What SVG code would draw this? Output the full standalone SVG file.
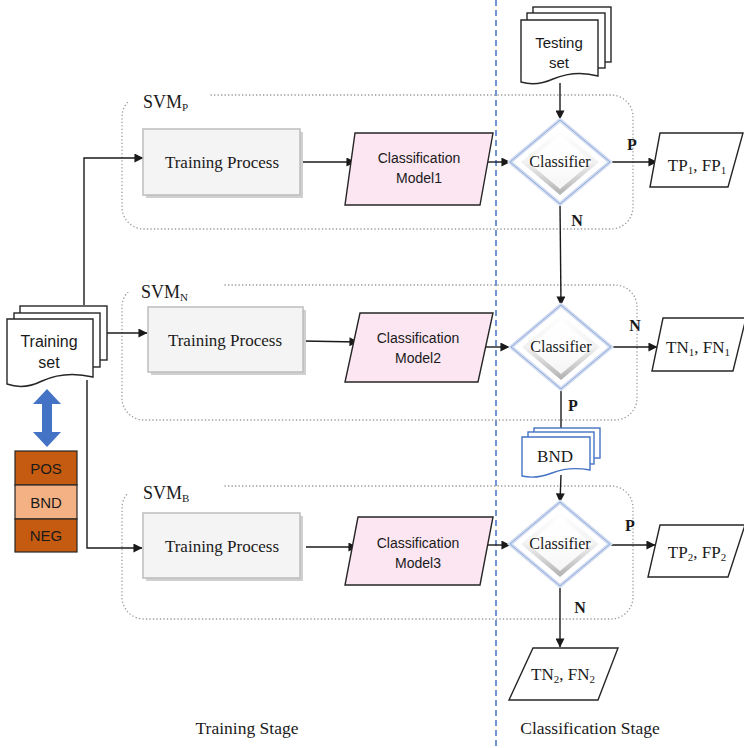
<svg xmlns="http://www.w3.org/2000/svg" width="744" height="748" viewBox="0 0 744 748">
<style>
.serif{font-family:"Liberation Serif","Times New Roman",serif;fill:#1a1a1a}
.sans{font-family:"Liberation Sans",Arial,sans-serif;fill:#1a1a1a}
.conn{fill:none;stroke:#1a1a1a;stroke-width:1.4}
.grp{fill:none;stroke:#9a9a9a;stroke-width:1.3;stroke-dasharray:1.3 2.2}
.tp{fill:#F4F4F4;stroke:#BDBDBD;stroke-width:1.5}
.tpsh{fill:#D0D0D0}
.cm{fill:#FCE6F2;stroke:#262626;stroke-width:1.4}
.out{fill:#ffffff;stroke:#262626;stroke-width:1.4}
.doc{fill:#ffffff;stroke:#262626;stroke-width:1.4}
.docb{fill:#ffffff;stroke:#4472C4;stroke-width:1.4}
.lbl{font-size:16px;font-weight:bold}
</style>
<defs>
<marker id="arr" viewBox="0 0 10 10" refX="9.5" refY="5" markerWidth="10" markerHeight="9" markerUnits="userSpaceOnUse" orient="auto">
<path d="M0,0 L10,5 L0,10 Z" fill="#1a1a1a"/>
</marker>
<linearGradient id="bev" x1="0" y1="0" x2="0" y2="1">
<stop offset="0" stop-color="#ffffff"/>
<stop offset="0.5" stop-color="#f2f2f2"/>
<stop offset="1" stop-color="#b0b0b0"/>
</linearGradient>
<g id="diamond">
<path d="M0,-42 L50,0 L0,42 L-50,0 Z" fill="#ffffff" stroke="#D3DDF1" stroke-width="4"/>
<path d="M0,-42 L50,0 L0,42 L-50,0 Z" fill="none" stroke="#8FA8DA" stroke-width="1"/>
<path d="M0,-33 L39,0 L0,33 L-39,0 Z" fill="url(#bev)"/>
<path d="M0,-27 L32,0 L0,27 L-32,0 Z" fill="#ffffff" opacity="0.85"/>
</g>
</defs>

<!-- stage divider -->
<line x1="496" y1="0" x2="496" y2="748" stroke="#4472C4" stroke-width="1.5" stroke-dasharray="6 4"/>

<!-- groups -->
<g id="svmP">
<rect class="grp" x="122" y="95" width="511" height="134" rx="22"/>
<rect x="127" y="86" width="83" height="16" fill="#ffffff"/>
<text class="serif" x="143" y="108" font-size="18">SVM<tspan font-size="11" dy="3">P</tspan></text>
</g>
<g id="svmN">
<rect class="grp" x="122" y="285" width="515" height="135" rx="22"/>
<rect x="127" y="276" width="96" height="16" fill="#ffffff"/>
<text class="serif" x="141" y="298" font-size="18">SVM<tspan font-size="11" dy="3">N</tspan></text>
</g>
<g id="svmB">
<rect class="grp" x="122" y="486" width="511" height="133" rx="22"/>
<rect x="127" y="477" width="96" height="16" fill="#ffffff"/>
<text class="serif" x="143" y="499" font-size="18">SVM<tspan font-size="11" dy="3">B</tspan></text>
</g>

<!-- connectors -->
<g id="connectors">
<polyline class="conn" points="84,305 84,158 143,158" marker-end="url(#arr)"/>
<line class="conn" x1="107" y1="333" x2="147" y2="333" marker-end="url(#arr)"/>
<polyline class="conn" points="87,380 87,548 142,548" marker-end="url(#arr)"/>
<line class="conn" x1="300" y1="162" x2="355" y2="162" marker-end="url(#arr)"/>
<line class="conn" x1="303" y1="341" x2="358" y2="342" marker-end="url(#arr)"/>
<line class="conn" x1="306" y1="547" x2="357" y2="547" marker-end="url(#arr)"/>
<line class="conn" x1="487" y1="162" x2="510" y2="162" marker-end="url(#arr)"/>
<line class="conn" x1="486" y1="347" x2="509" y2="347" marker-end="url(#arr)"/>
<line class="conn" x1="484" y1="545" x2="510" y2="545" marker-end="url(#arr)"/>
<line class="conn" x1="560" y1="83" x2="560" y2="119" marker-end="url(#arr)"/>
<line class="conn" x1="560" y1="204" x2="561" y2="305" marker-end="url(#arr)"/>
<line class="conn" x1="561" y1="389" x2="561" y2="430"/>
<line class="conn" x1="561" y1="475" x2="560" y2="502" marker-end="url(#arr)"/>
<line class="conn" x1="610" y1="162" x2="657" y2="162" marker-end="url(#arr)"/>
<line class="conn" x1="613" y1="347" x2="657" y2="347" marker-end="url(#arr)"/>
<line class="conn" x1="610" y1="545" x2="655" y2="545" marker-end="url(#arr)"/>
<line class="conn" x1="560" y1="586" x2="560" y2="647" marker-end="url(#arr)"/>
<text class="serif lbl" x="632" y="150" text-anchor="middle">P</text>
<text class="serif lbl" x="577" y="226" text-anchor="middle">N</text>
<text class="serif lbl" x="635" y="331" text-anchor="middle">N</text>
<text class="serif lbl" x="573" y="411" text-anchor="middle">P</text>
<text class="serif lbl" x="630" y="531" text-anchor="middle">P</text>
<text class="serif lbl" x="580" y="613" text-anchor="middle">N</text>
</g>

<!-- training set -->
<g id="trainingSet">
<rect class="doc" x="20" y="306" width="87" height="54"/>
<rect class="doc" x="14" y="313" width="86" height="54"/>
<path class="doc" d="M7,319 H93 V377 C72,372 55,375 42,381 C30,387 18,388 7,384 Z"/>
<text class="sans" x="49" y="347" font-size="16" text-anchor="middle">Training</text>
<text class="sans" x="49" y="368" font-size="16" text-anchor="middle">set</text>
</g>

<g id="doubleArrow">
<path d="M47,389 L61,404 L52,404 L52,432 L61,432 L47,447 L33,432 L42,432 L42,404 L33,404 Z" fill="#4472C4"/>
</g>

<g id="labels">
<rect x="15" y="451" width="62" height="34" fill="#C55A11" stroke="#262626" stroke-width="1.2"/>
<rect x="15" y="485" width="62" height="34" fill="#F4B183" stroke="#262626" stroke-width="1.2"/>
<rect x="15" y="519" width="62" height="33" fill="#C55A11" stroke="#262626" stroke-width="1.2"/>
<text class="sans" x="46" y="474" font-size="15" text-anchor="middle">POS</text>
<text class="sans" x="46" y="508" font-size="15" text-anchor="middle">BND</text>
<text class="sans" x="46" y="541" font-size="15" text-anchor="middle">NEG</text>
</g>

<!-- training processes -->
<g id="tp1">
<rect class="tpsh" x="146" y="132" width="157" height="66"/>
<rect class="tp" x="143" y="129" width="157" height="66"/>
<text class="serif" x="222" y="168" font-size="17" text-anchor="middle">Training Process</text>
</g>
<g id="tp2">
<rect class="tpsh" x="151" y="310" width="155" height="65"/>
<rect class="tp" x="148" y="307" width="155" height="65"/>
<text class="serif" x="225" y="346" font-size="17" text-anchor="middle">Training Process</text>
</g>
<g id="tp3">
<rect class="tpsh" x="146" y="516" width="157" height="65"/>
<rect class="tp" x="143" y="513" width="157" height="65"/>
<text class="serif" x="222" y="552" font-size="17" text-anchor="middle">Training Process</text>
</g>

<!-- classification models -->
<g id="cm1">
<path class="cm" d="M355,133 H493 L480,205 H345 Z"/>
<text class="sans" x="419" y="163" font-size="14" text-anchor="middle">Classification</text>
<text class="sans" x="419" y="183" font-size="14" text-anchor="middle">Model1</text>
</g>
<g id="cm2">
<path class="cm" d="M360,313 H493 L478,382 H345 Z"/>
<text class="sans" x="418" y="343" font-size="14" text-anchor="middle">Classification</text>
<text class="sans" x="418" y="363" font-size="14" text-anchor="middle">Model2</text>
</g>
<g id="cm3">
<path class="cm" d="M358,517 H493 L480,585 H345 Z"/>
<text class="sans" x="418" y="548" font-size="14" text-anchor="middle">Classification</text>
<text class="sans" x="418" y="568" font-size="14" text-anchor="middle">Model3</text>
</g>

<!-- testing set -->
<g id="testingSet">
<rect class="doc" x="533" y="7" width="78" height="55"/>
<rect class="doc" x="527" y="13" width="78" height="55"/>
<path class="doc" d="M521,20 H598 V76 C580,71 565,74 553,79 C542,84 531,85 521,82 Z"/>
<text class="sans" x="559" y="48" font-size="15" text-anchor="middle">Testing</text>
<text class="sans" x="559" y="68" font-size="15" text-anchor="middle">set</text>
</g>

<!-- classifiers -->
<g id="classifier1">
<use href="#diamond" x="560" y="162"/>
<text class="serif" x="560" y="167" font-size="16" text-anchor="middle">Classifier</text>
</g>
<g id="classifier2">
<use href="#diamond" x="561" y="347"/>
<text class="serif" x="561" y="352" font-size="16" text-anchor="middle">Classifier</text>
</g>
<g id="classifier3">
<use href="#diamond" x="560" y="544"/>
<text class="serif" x="560" y="549" font-size="16" text-anchor="middle">Classifier</text>
</g>

<!-- BND doc -->
<g id="bnd">
<rect class="docb" x="534" y="428" width="66" height="30"/>
<rect class="docb" x="528" y="432" width="66" height="32"/>
<path class="docb" d="M522,437 H590 V470 C574,467 562,469 552,473 C542,477 531,478 522,476 Z"/>
<text class="serif" x="555" y="462" font-size="17" text-anchor="middle">BND</text>
</g>

<!-- outputs -->
<g id="out1">
<path class="out" d="M660,133 H743 L728,187 H650 Z"/>
<text class="serif" x="697" y="171" font-size="17" text-anchor="middle">TP<tspan font-size="11" dy="3">1</tspan><tspan dy="-3">, FP</tspan><tspan font-size="11" dy="3">1</tspan></text>
</g>
<g id="out2">
<path class="out" d="M663,318 H746 L733,371 H652 Z"/>
<text class="serif" x="698" y="353" font-size="17" text-anchor="middle">TN<tspan font-size="11" dy="3">1</tspan><tspan dy="-3">, FN</tspan><tspan font-size="11" dy="3">1</tspan></text>
</g>
<g id="out3">
<path class="out" d="M660,525 H745 L728,577 H648 Z"/>
<text class="serif" x="697" y="558" font-size="17" text-anchor="middle">TP<tspan font-size="11" dy="3">2</tspan><tspan dy="-3">, FP</tspan><tspan font-size="11" dy="3">2</tspan></text>
</g>
<g id="out4">
<path class="out" d="M533,648 H618 L598,700 H509 Z"/>
<text class="serif" x="563" y="680" font-size="17" text-anchor="middle">TN<tspan font-size="11" dy="3">2</tspan><tspan dy="-3">, FN</tspan><tspan font-size="11" dy="3">2</tspan></text>
</g>

<!-- stage captions -->
<text class="serif" x="247" y="734" font-size="17.5" text-anchor="middle">Training Stage</text>
<text class="serif" x="590" y="734" font-size="17.5" text-anchor="middle">Classification Stage</text>
</svg>
